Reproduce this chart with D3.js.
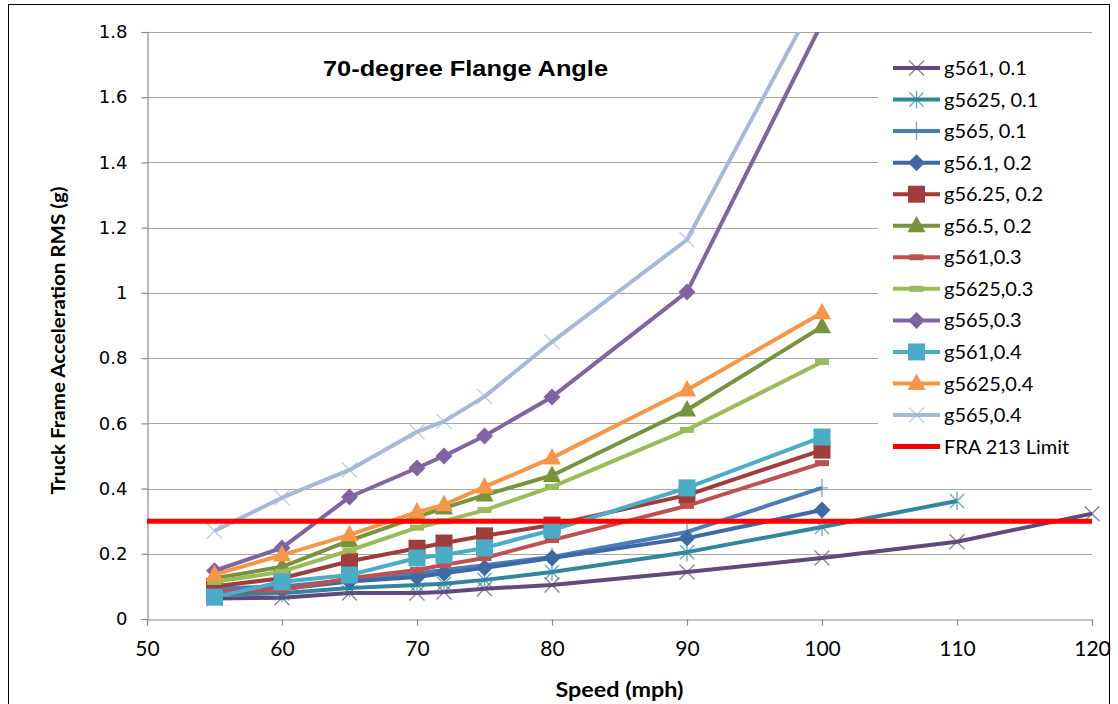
<!DOCTYPE html>
<html>
<head>
<meta charset="utf-8">
<script src="https://cdn.jsdelivr.net/npm/d3@7/dist/d3.min.js"></script>
<style>
  html, body { margin: 0; padding: 0; background: #fff; }
  svg { display: block; }
</style>
</head>
<body>
<script>
// Speeds (mph) at which the runs were made
const speeds = [55, 60, 65, 70, 72, 75, 80, 90, 100];
const speedsTo110 = [55, 60, 65, 70, 72, 75, 80, 90, 100, 110];
const speedsTo120 = [55, 60, 65, 70, 72, 75, 80, 90, 100, 110, 120];

// Truck frame acceleration RMS (g) per case
const g561_01  = [0.063, 0.065, 0.080, 0.080, 0.083, 0.093, 0.104, 0.144, 0.187, 0.237, 0.323];
const g5625_01 = [0.074, 0.079, 0.095, 0.104, 0.108, 0.120, 0.144, 0.205, 0.282, 0.362];
const g565_01  = [0.094, 0.100, 0.120, 0.140, 0.150, 0.165, 0.190, 0.267, 0.402];
const g561_02  = [0.080, 0.092, 0.115, 0.129, 0.140, 0.157, 0.187, 0.248, 0.334];
const g5625_02 = [0.100, 0.125, 0.177, 0.217, 0.233, 0.255, 0.288, 0.380, 0.518];
const g565_02  = [0.125, 0.160, 0.240, 0.313, 0.340, 0.380, 0.440, 0.641, 0.896];
const g561_03  = [0.084, 0.089, 0.125, 0.150, 0.166, 0.187, 0.242, 0.347, 0.478];
const g5625_03 = [0.114, 0.145, 0.210, 0.280, 0.300, 0.334, 0.405, 0.580, 0.788];
const g565_03  = [0.148, 0.218, 0.374, 0.463, 0.500, 0.561, 0.681, 1.003, 1.828];
const g561_04  = [0.067, 0.114, 0.135, 0.187, 0.196, 0.218, 0.273, 0.402, 0.558];
const g5625_04 = [0.136, 0.196, 0.258, 0.328, 0.350, 0.405, 0.494, 0.702, 0.939];
const g565_04  = [0.270, 0.372, 0.457, 0.574, 0.606, 0.682, 0.850, 1.163, 1.935];

// FRA 213 limit (g), drawn across the full speed range
const limitSpeeds = [50, 120];
const limitValue = 0.3;

const xTicks = [50, 60, 70, 80, 90, 100, 110, 120];
const yTicks = [0, 0.2, 0.4, 0.6, 0.8, 1, 1.2, 1.4, 1.6, 1.8];

const seriesNames = ["g561, 0.1", "g5625, 0.1", "g565, 0.1", "g56.1, 0.2", "g56.25, 0.2", "g56.5, 0.2",
                     "g561,0.3", "g5625,0.3", "g565,0.3", "g561,0.4", "g5625,0.4", "g565,0.4"];
const seriesX = [speedsTo120, speedsTo110, speeds, speeds, speeds, speeds, speeds, speeds, speeds, speeds, speeds, speeds];
const seriesY = [g561_01, g5625_01, g565_01, g561_02, g5625_02, g565_02, g561_03, g5625_03, g565_03, g561_04, g5625_04, g565_04];
const seriesColor = ["#604a7b", "#31859c", "#4a7ebb", "#3d6aa5", "#9e3d3b", "#77933c",
                     "#c0504d", "#9bbb59", "#8064a2", "#4bacc6", "#f79646", "#a7b9d7"];
const seriesMarker = ["x", "star", "plus", "diamond", "square", "triangle",
                      "dash", "dash", "diamond", "square", "triangle", "x"];
const limitName = "FRA 213 Limit";

const W = 1118, H = 704;
const plot = { left: 147, right: 1092, top: 32, bottom: 619 };

const svg = d3.select("body").append("svg").attr("width", W).attr("height", H);

svg.append("rect").attr("x", 8.5).attr("y", 4.5).attr("width", 1101).attr("height", 720)
  .attr("fill", "#fff").attr("stroke", "#000").attr("stroke-width", 1);

const x = d3.scaleLinear().domain([50, 120]).range([plot.left, plot.right]);
const y = d3.scaleLinear().domain([0, 1.8]).range([plot.bottom, plot.top]);

// gridlines
svg.append("g").selectAll("line").data(yTicks.filter(d => d > 0)).join("line")
  .attr("x1", plot.left).attr("x2", plot.right)
  .attr("y1", d => Math.round(y(d)) + 0.5).attr("y2", d => Math.round(y(d)) + 0.5)
  .attr("stroke", "#a6a6a6").attr("stroke-width", 1.2);

// axes
const yAxis = svg.append("g").attr("transform", `translate(${plot.left + 0.5},0)`)
  .call(d3.axisLeft(y).tickValues(yTicks).tickSize(6).tickPadding(14).tickFormat(d => d3.format("")(d)));
const xAxis = svg.append("g").attr("transform", `translate(0,${plot.bottom + 0.5})`)
  .call(d3.axisBottom(x).tickValues(xTicks).tickSize(6).tickPadding(16));
[yAxis, xAxis].forEach(a => {
  a.select(".domain").attr("stroke", "#8c8c8c").attr("stroke-width", 1.2);
  a.selectAll(".tick line").attr("stroke", "#8c8c8c").attr("stroke-width", 1.2);
});
yAxis.selectAll("text").attr("font-family", "'DejaVu Sans', Verdana, sans-serif").attr("font-size", 18).attr("fill", "#000");
xAxis.selectAll("text").attr("font-family", "Lato, 'Open Sans', sans-serif").attr("font-size", 21).attr("fill", "#000");

// axis titles
svg.append("text").attr("x", (plot.left + plot.right) / 2).attr("y", 697)
  .attr("text-anchor", "middle").attr("font-family", "Lato, sans-serif").attr("font-weight", "bold")
  .attr("font-size", 21).attr("textLength", 128).attr("lengthAdjust", "spacingAndGlyphs")
  .text("Speed (mph)");
svg.append("text").attr("transform", `translate(65,${(plot.top + plot.bottom) / 2 + 15}) rotate(-90)`)
  .attr("text-anchor", "middle").attr("font-family", "Lato, sans-serif").attr("font-weight", "bold")
  .attr("font-size", 19).attr("textLength", 308).attr("lengthAdjust", "spacingAndGlyphs")
  .text("Truck Frame Acceleration RMS (g)");

// chart title
svg.append("text").attr("x", 323).attr("y", 76)
  .attr("font-family", "'Liberation Sans', Arial, sans-serif").attr("font-weight", "bold")
  .attr("font-size", 22).attr("textLength", 285).attr("lengthAdjust", "spacingAndGlyphs")
  .text("70-degree Flange Angle");

// marker shapes
function markerPath(kind) {
  switch (kind) {
    case "x": return "M-7.5,-7.5L7.5,7.5M-7.5,7.5L7.5,-7.5";
    case "star": return "M-7,-7L7,7M-7,7L7,-7M0,-9L0,9";
    case "plus": return "M-6,0L6,0M0,-9L0,9";
    case "diamond": return "M0,-8.5L8.5,0L0,8.5L-8.5,0Z";
    case "square": return "M-8.5,-8.5H8.5V8.5H-8.5Z";
    case "triangle": return "M0,-10L9,6.5L-9,6.5Z";
    case "dash": return "M-7,-3H7V3H-7Z";
  }
  return "";
}
const stroked = k => k === "x" || k === "star" || k === "plus";

function drawMarker(g, kind, color) {
  const p = g.append("path").attr("d", markerPath(kind));
  if (stroked(kind)) p.attr("fill", "none").attr("stroke", color).attr("stroke-width", 1.4).attr("stroke-opacity", 0.7);
  else p.attr("fill", color).attr("stroke", "none");
  return p;
}

// clip lines to the plot area (the two steepest series run off the top)
svg.append("defs").append("clipPath").attr("id", "lineClip")
  .append("rect").attr("x", plot.left).attr("y", plot.top)
  .attr("width", plot.right - plot.left + 12).attr("height", plot.bottom - plot.top + 20);

const line = d3.line().x(d => x(d[0])).y(d => y(d[1]));
const dataG = svg.append("g");

seriesNames.forEach((name, i) => {
  const pts = seriesX[i].map((s, j) => [s, seriesY[i][j]]);
  const g = dataG.append("g");
  g.append("path").datum(pts).attr("d", line).attr("clip-path", "url(#lineClip)")
    .attr("fill", "none").attr("stroke", seriesColor[i]).attr("stroke-width", 4)
    .attr("stroke-linejoin", "round");
  const mg = g.append("g").attr("clip-path", "url(#lineClip)");
  pts.forEach(p => {
    const m = mg.append("g").attr("transform", `translate(${x(p[0])},${y(p[1])})`);
    drawMarker(m, seriesMarker[i], seriesColor[i]);
  });
});

// FRA 213 limit
dataG.append("path").datum(limitSpeeds.map(s => [s, limitValue])).attr("d", line)
  .attr("fill", "none").attr("stroke", "#ff0000").attr("stroke-width", 5);

// legend
const legend = svg.append("g");
legend.append("rect").attr("x", 878).attr("y", 42).attr("width", 218).attr("height", 424).attr("fill", "#fff");
const legY0 = 68, legDy = 31.55;
const legendNames = seriesNames.concat([limitName]);
legendNames.forEach((name, i) => {
  const yy = legY0 + i * legDy;
  const row = legend.append("g").attr("transform", `translate(0,${yy})`);
  const col = i < seriesNames.length ? seriesColor[i] : "#ff0000";
  row.append("line").attr("x1", 893).attr("x2", 940).attr("y1", 0).attr("y2", 0)
    .attr("stroke", col).attr("stroke-width", i < seriesNames.length ? 4 : 5);
  if (i < seriesNames.length) {
    const m = row.append("g").attr("transform", "translate(916.5,0)");
    drawMarker(m, seriesMarker[i], col);
  }
  row.append("text").attr("x", 944).attr("y", 7)
    .attr("font-family", "Lato, 'Open Sans', sans-serif").attr("font-size", 20).attr("fill", "#000")
    .text(name);
});
</script>
</body>
</html>
